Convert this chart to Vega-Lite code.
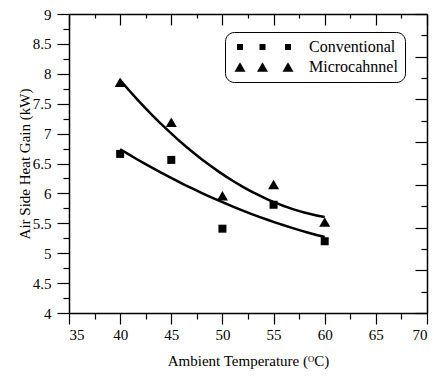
{
  "$schema": "https://vega.github.io/schema/vega-lite/v6.json",
  "width": 358,
  "height": 299,
  "autosize": {"type": "none"},
  "padding": {"left": 69, "top": 14, "right": 7, "bottom": 63},
  "background": "white",
  "data": {
    "values": [
      {"temp": 40, "gain": 6.66, "series": "Conventional"},
      {"temp": 45, "gain": 6.56, "series": "Conventional"},
      {"temp": 50, "gain": 5.41, "series": "Conventional"},
      {"temp": 55, "gain": 5.81, "series": "Conventional"},
      {"temp": 60, "gain": 5.2, "series": "Conventional"},
      {"temp": 40, "gain": 7.86, "series": "Microcahnnel"},
      {"temp": 45, "gain": 7.19, "series": "Microcahnnel"},
      {"temp": 50, "gain": 5.96, "series": "Microcahnnel"},
      {"temp": 55, "gain": 6.15, "series": "Microcahnnel"},
      {"temp": 60, "gain": 5.52, "series": "Microcahnnel"}
    ]
  },
  "layer": [
    {
      "transform": [
        {"regression": "gain", "on": "temp", "groupby": ["series"], "method": "poly", "order": 2}
      ],
      "mark": {"type": "line", "color": "black", "strokeWidth": 2.5, "clip": true},
      "encoding": {
        "x": {
          "field": "temp", "type": "quantitative",
          "scale": {"domain": [35, 70], "nice": false, "zero": false},
          "axis": {
            "orient": "bottom",
            "values": [35, 37.5, 40, 42.5, 45, 47.5, 50, 52.5, 55, 57.5, 60, 62.5, 65, 67.5, 70],
            "tickSize": {"condition": {"test": "datum.value % 5 === 0", "value": 11}, "value": 6},
            "labelExpr": "datum.value % 5 === 0 ? format(datum.value, '~g') : ''",
            "labelOverlap": false,
            "labelPadding": 3,
            "title": "Ambient Temperature (ᴼC)",
            "titlePadding": 11
          }
        },
        "y": {
          "field": "gain", "type": "quantitative",
          "scale": {"domain": [4, 9], "nice": false, "zero": false},
          "axis": {
            "orient": "left",
            "values": [4, 4.25, 4.5, 4.75, 5, 5.25, 5.5, 5.75, 6, 6.25, 6.5, 6.75, 7, 7.25, 7.5, 7.75, 8, 8.25, 8.5, 8.75, 9],
            "tickSize": {"condition": {"test": "datum.value % 0.5 === 0", "value": 12}, "value": 6},
            "labelExpr": "datum.value % 0.5 === 0 ? format(datum.value, '~g') : ''",
            "labelOverlap": false,
            "labelPadding": 6,
            "title": "Air Side Heat Gain (kW)",
            "titlePadding": 0
          }
        },
        "detail": {"field": "series"}
      }
    },
    {
      "mark": {"type": "point", "filled": true, "color": "black", "opacity": 1},
      "encoding": {
        "x": {
          "field": "temp", "type": "quantitative",
          "scale": {"domain": [35, 70], "nice": false, "zero": false},
          "axis": {
            "orient": "top",
            "values": [35, 37.5, 40, 42.5, 45, 47.5, 50, 52.5, 55, 57.5, 60, 62.5, 65, 67.5, 70],
            "tickSize": {"condition": {"test": "datum.value % 5 === 0", "value": -11}, "value": -4},
            "labels": false,
            "title": null
          }
        },
        "y": {
          "field": "gain", "type": "quantitative",
          "scale": {"domain": [4, 9], "nice": false, "zero": false},
          "axis": {
            "orient": "right",
            "values": [4, 4.357142857, 4.714285714, 5.071428571, 5.428571429, 5.785714286, 6.142857143, 6.5, 6.857142857, 7.214285714, 7.571428571, 7.928571429, 8.285714286, 8.642857143, 9],
            "tickSize": {"condition": {"test": "round((datum.value - 4) * 2.8) % 2 === 0", "value": -12}, "value": -6},
            "labels": false,
            "title": null
          }
        },
        "shape": {
          "field": "series", "type": "nominal",
          "scale": {"domain": ["Conventional", "Microcahnnel"], "range": ["square", "triangle-up"]},
          "legend": null
        },
        "size": {
          "field": "series", "type": "nominal",
          "scale": {"domain": ["Conventional", "Microcahnnel"], "range": [64, 121]},
          "legend": null
        }
      }
    },
    {
      "mark": {"type": "point", "filled": true, "color": "black", "opacity": 0},
      "encoding": {
        "shape": {
          "field": "series", "type": "nominal",
          "scale": {
            "domain": ["Conventional", "Microcahnnel"],
            "range": [
              "M-3,-3h6v6h-6z M19.5,-3h6v6h-6z M45,-3h6v6h-6z",
              "M0,-4.8L5.5,4.8H-5.5Z M22.5,-4.8L28,4.8H17Z M48,-4.8L53.5,4.8H42.5Z"
            ]
          },
          "legend": {
            "orient": "none",
            "legendX": 156,
            "legendY": 18,
            "title": null,
            "symbolSize": 4,
            "labelOffset": 61,
            "labelFont": "Liberation Serif",
            "labelFontSize": 16,
            "labelColor": "black",
            "strokeColor": "black",
            "cornerRadius": 9,
            "fillColor": "white",
            "padding": 7,
            "rowPadding": 4,
            "symbolFillColor": "black",
            "symbolStrokeWidth": 0,
            "symbolOpacity": 1,
            "encode": {"legend": {"update": {"strokeWidth": {"value": 2.8}}}}
          }
        }
      }
    }
  ],
  "resolve": {
    "scale": {"shape": "independent", "size": "independent"},
    "axis": {"x": "independent", "y": "independent"}
  },
  "config": {
    "view": {"stroke": null},
    "axis": {
      "grid": false,
      "domainColor": "black",
      "domainWidth": 1.5,
      "tickColor": "black",
      "tickWidth": 1.2,
      "labelFont": "Liberation Serif",
      "labelFontSize": 15,
      "labelColor": "black",
      "titleFont": "Liberation Serif",
      "titleFontSize": 15,
      "titleFontWeight": "normal",
      "titleColor": "black"
    }
  }
}
